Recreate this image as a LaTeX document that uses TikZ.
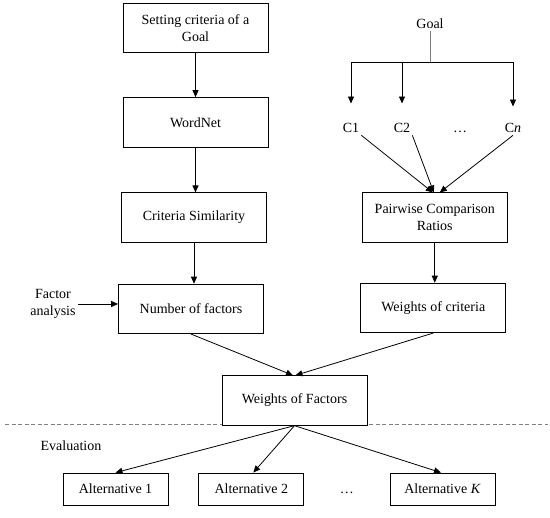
\documentclass[tikz,border=0pt]{standalone}
\usepackage{fontspec}
\setmainfont{Liberation Serif}
\usetikzlibrary{arrows.meta, positioning, calc}

\begin{document}
\begin{tikzpicture}[
    x=1pt, y=-1pt,
    font=\fontsize{14}{17}\selectfont,
    box/.style={rectangle, draw, line width=0.8pt, minimum width=145pt, minimum height=49.5pt, align=center, fill=white},
    alt/.style={rectangle, draw, line width=0.8pt, minimum width=105pt, minimum height=32pt, fill=white},
    lbl/.style={inner sep=2pt, align=center},
    arrow/.style={-{Triangle[length=7pt,width=6pt]}, line width=0.8pt},
    sep/.style={dash pattern=on 4pt off 2.5pt, gray, line width=0.7pt}
  ]
  \useasboundingbox (0,0) rectangle (550,518);

  \node[box] (set) at (195.5,28) {Setting criteria of a\\Goal};
  \node[box, below=44pt of set] (wn) {WordNet};
  \node[box, below=45pt of wn, xshift=-1.5pt] (sim) {Criteria Similarity};
  \node[box, below=41pt of sim, xshift=-3pt] (nf) {Number of factors};
  \node[lbl] (fa) at (53,304) {Factor\\analysis};

  \node[lbl] (goal) at (430,24) {Goal};
  \coordinate (bar) at (430,62);
  \node[lbl, anchor=base] (c1) at (351,133) {C1};
  \node[lbl, anchor=base] (c2) at (402,133) {C2};
  \node[lbl, anchor=base] (cd) at (460,133) {\dots};
  \node[lbl, anchor=base] (cn) at (513,133) {C\textit{n}};
  \node[box, right=95pt of sim] (pc) {Pairwise Comparison\\Ratios};
  \node[box, below=40pt of pc, xshift=-1.5pt] (wc) {Weights of criteria};

  \draw[sep] (5,424) -- (548,424);
  \node[box] (wf) at (294.5,400.5) {Weights of Factors};
  \node[lbl] (ev) at (71,446) {Evaluation};

  \node[alt] (a1) at (115.5,489) {Alternative 1};
  \node[alt, right=30pt of a1] (a2) {Alternative 2};
  \node[alt] (ak) at (442.5,489) {Alternative \textit{K}};
  \node[lbl, anchor=base] (ad) at ($(a2.base)!.5!(ak.base)$) {\dots};

  \draw[arrow] (set) -- (wn);
  \draw[arrow] (wn.south) -- (wn.south |- sim.north);
  \draw[arrow] (sim.south) -- (sim.south |- nf.north);
  \draw[arrow] (fa.east) -- (fa.east -| nf.west);

  \draw[gray, line width=0.7pt] (goal) -- (bar);
  \draw[line width=0.8pt] (c1 |- bar) -- (cn |- bar);
  \draw[arrow, shorten >=18pt] (c1 |- bar) -- (c1.north);
  \draw[arrow, shorten >=18pt] (c2 |- bar) -- (c2.north);
  \draw[arrow, shorten >=15pt] (cn |- bar) -- (cn.north);
  \draw[arrow] (c1.south east) -- ([xshift=-2pt]pc.north);
  \draw[arrow] (c2.south east) -- ([xshift=-1pt]pc.north);
  \draw[arrow] (cn.south) -- ([xshift=5pt]pc.north);
  \draw[arrow] (pc.south) -- (pc.south |- wc.north);

  \draw[arrow] (nf.south) -- ([xshift=-1.5pt]wf.north);
  \draw[arrow] (wc.south) -- ([xshift=1pt]wf.north);
  \draw[arrow] (wf.south) -- (a1.north);
  \draw[arrow] (wf.south) -- ([xshift=2pt]a2.north);
  \draw[arrow] (wf.south) -- ([xshift=-1.5pt]ak.north);
\end{tikzpicture}
\end{document}
